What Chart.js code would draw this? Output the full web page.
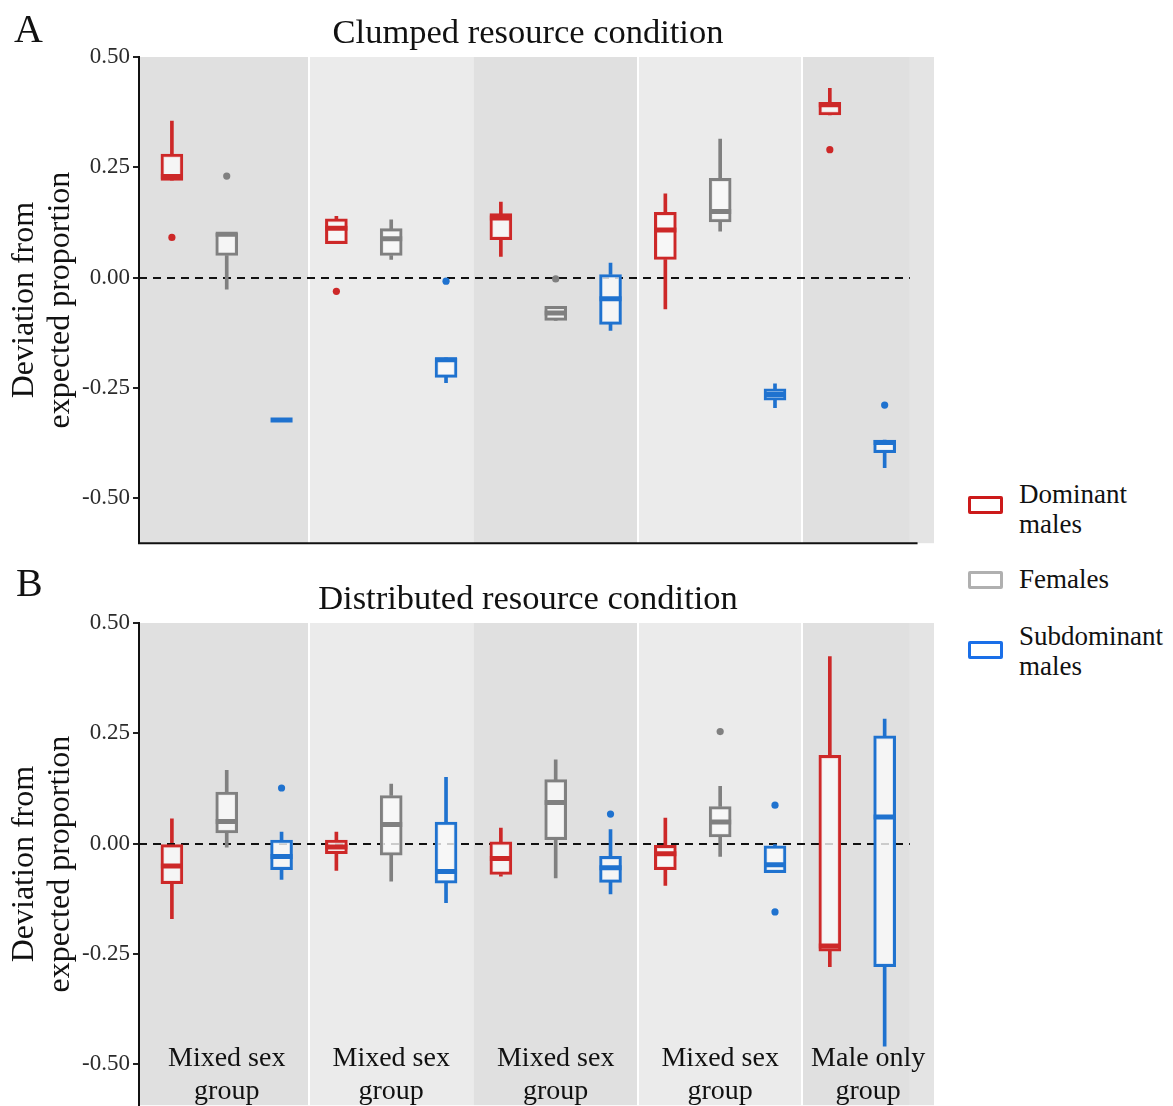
<!DOCTYPE html>
<html>
<head>
<meta charset="utf-8">
<script src="https://cdn.jsdelivr.net/npm/chart.js@4.4.1/dist/chart.umd.min.js"></script>
<style>
  html, body { margin:0; padding:0; background:#fff; }
  body { width:1173px; height:1106px; position:relative; overflow:hidden; font-family:"Liberation Serif","Times New Roman",serif; color:#111; }
  canvas { position:absolute; left:0; }
  .t { position:absolute; white-space:nowrap; line-height:1; }
  .title { font-size:34.5px; transform:translateX(-50%); }
  .letter { font-size:40px; }
  .leg { position:absolute; left:1019px; font-size:27px; line-height:30px; white-space:nowrap; }
  .icon { position:absolute; left:968px; width:29px; height:12px; border:3px solid; border-radius:2px; background:#fff; }
</style>
</head>
<body>
<canvas id="cA" width="950" height="560" style="top:0px"></canvas>
<canvas id="cB" width="950" height="556" style="top:566px"></canvas>

<div class="t letter" style="left:14px; top:9px;">A</div>
<div class="t letter" style="left:16px; top:563px;">B</div>
<div class="t title" style="left:528px; top:14px;">Clumped resource condition</div>
<div class="t title" style="left:528px; top:580px;">Distributed resource condition</div>

<div class="icon" style="top:496px; border-color:#cc1a1a;"></div>
<div class="icon" style="top:571px; border-color:#b0b0b0;"></div>
<div class="icon" style="top:641px; border-color:#1a6fe8;"></div>
<div class="leg" style="top:479px;">Dominant<br>males</div>
<div class="leg" style="top:564px;">Females</div>
<div class="leg" style="top:621px;">Subdominant<br>males</div>

<script>
// ---------- categories / positions on the shared linear x scale ----------
const groupLabels = [["Mixed sex","group"],["Mixed sex","group"],["Mixed sex","group"],["Mixed sex","group"],["Male only","group"]];
const groupLabelX = [2, 5, 8, 11, 13.7];
const domSlots = [1, 4, 7, 10, 13];
const femSlots = [2, 5, 8, 11];
const subSlots = [3, 6, 9, 12, 14];
const yTicks = [-0.5, -0.25, 0, 0.25, 0.5];

// ---------- Panel A: clumped ----------
const domA_min = [0.220, 0.077, 0.048, -0.071, 0.369];
const domA_q1  = [0.220, 0.077, 0.086,  0.041, 0.369];
const domA_med = [0.229, 0.112, 0.135,  0.108, 0.392];
const domA_q3  = [0.280, 0.133, 0.145,  0.148, 0.397];
const domA_max = [0.355, 0.139, 0.171,  0.190, 0.429];
const domA_out = [[0, 0.091], [1, -0.031], [4, 0.290]];

const femA_min = [-0.026, 0.041, -0.097, 0.105];
const femA_q1  = [ 0.050, 0.050, -0.097, 0.126];
const femA_med = [ 0.098, 0.088, -0.080, 0.150];
const femA_q3  = [ 0.101, 0.111, -0.065, 0.225];
const femA_max = [ 0.101, 0.131, -0.065, 0.314];
const femA_out = [[0, 0.230], [2, -0.003]];

const subA_min = [-0.323, -0.238, -0.120, -0.295, -0.431];
const subA_q1  = [-0.323, -0.226, -0.106, -0.278, -0.397];
const subA_med = [-0.323, -0.186, -0.048, -0.265, -0.374];
const subA_q3  = [-0.323, -0.182,  0.007, -0.252, -0.368];
const subA_max = [-0.323, -0.182,  0.033, -0.241, -0.368];
const subA_out = [[1, -0.008], [4, -0.289]];

// ---------- Panel B: distributed ----------
const domB_min = [-0.170, -0.061, -0.074, -0.095, -0.279];
const domB_q1  = [-0.091, -0.023, -0.070, -0.059, -0.244];
const domB_med = [-0.051, -0.008, -0.034, -0.023, -0.232];
const domB_q3  = [ 0.000,  0.008,  0.004, -0.004,  0.200];
const domB_max = [ 0.056,  0.026,  0.035,  0.058,  0.424];
const domB_out = [];

const femB_min = [-0.008, -0.085, -0.078, -0.029];
const femB_q1  = [ 0.024, -0.026,  0.009,  0.015];
const femB_med = [ 0.050,  0.043,  0.093,  0.049];
const femB_q3  = [ 0.117,  0.109,  0.145,  0.084];
const femB_max = [ 0.166,  0.135,  0.190,  0.130];
const femB_out = [[3, 0.254]];

const subB_min = [-0.081, -0.134, -0.114, -0.066, -0.459];
const subB_q1  = [-0.059, -0.090, -0.088, -0.066, -0.279];
const subB_med = [-0.029, -0.063, -0.055, -0.048,  0.060];
const subB_q3  = [ 0.008,  0.049, -0.029, -0.005,  0.244];
const subB_max = [ 0.026,  0.150,  0.032,  0.000,  0.282];
const subB_out = [[0, 0.126], [2, 0.067], [3, 0.087], [3, -0.155]];

// ---------- styling ----------
Chart.defaults.font.family = '"Liberation Serif", "Times New Roman", serif';
const RED = '#cd2828', GREY = '#808080', BLUE = '#1f72cf';
const BOXFILL = 'rgba(250,250,250,0.8)';
const bands = [
  [0.4, 3.5, '#e0e0e0'], [3.5, 6.5, '#ebebeb'], [6.5, 9.5, '#e0e0e0'],
  [9.5, 12.5, '#ebebeb'], [12.5, 14.46, '#e0e0e0'], [14.46, 14.9, '#e4e4e4']
];
const separators = [3.5, 9.5, 12.5];
const zeroLineEnd = 14.46;
const bottomAxisEnd = 14.6;

function seriesDatasets(slots, mn, q1, med, q3, mx, out, color) {
  return [
    { type:'bar', grouped:false, order:5, barThickness:3, backgroundColor:color, borderWidth:0,
      data: slots.map((x,i)=>({x, y:[mn[i], q1[i]]})) },
    { type:'bar', grouped:false, order:5, barThickness:3, backgroundColor:color, borderWidth:0,
      data: slots.map((x,i)=>({x, y:[q3[i], mx[i]]})) },
    { type:'bar', grouped:false, order:4, barThickness:22, backgroundColor:BOXFILL, borderColor:color,
      borderWidth:3, borderSkipped:false,
      data: slots.map((x,i)=>({x, y:[q1[i], q3[i]]})) },
    { type:'scatter', order:2, pointStyle:'line', pointRadius:11, pointBorderWidth:5,
      borderColor:color, backgroundColor:color,
      data: slots.map((x,i)=>({x, y:med[i]})) },
    { type:'scatter', order:1, pointStyle:'circle', pointRadius:3.6, pointBorderWidth:0,
      backgroundColor:color, borderColor:color,
      data: out.map(([g,v])=>({x:slots[g], y:v})) }
  ];
}

const bgPlugin = {
  id:'bg',
  beforeDraw(chart) {
    const {ctx, chartArea:a, scales:{x}} = chart;
    ctx.save();
    bands.forEach(([s,e,c]) => {
      ctx.fillStyle = c;
      const x0 = x.getPixelForValue(s), x1 = x.getPixelForValue(e);
      ctx.fillRect(x0, a.top, x1 - x0, a.bottom - a.top);
    });
    ctx.strokeStyle = '#ffffff'; ctx.lineWidth = 2;
    separators.forEach(s => {
      const px = Math.round(x.getPixelForValue(s));
      ctx.beginPath(); ctx.moveTo(px, a.top); ctx.lineTo(px, a.bottom); ctx.stroke();
    });
    ctx.restore();
  },
  beforeDatasetsDraw(chart) {
    const {ctx, scales:{x,y}} = chart;
    const py = Math.round(y.getPixelForValue(0));
    ctx.save();
    ctx.strokeStyle = '#111'; ctx.lineWidth = 2; ctx.setLineDash([8,6]);
    ctx.beginPath(); ctx.moveTo(x.getPixelForValue(x.min), py); ctx.lineTo(x.getPixelForValue(zeroLineEnd), py); ctx.stroke();
    ctx.restore();
  },
  afterDraw(chart, args, opts) {
    const {ctx, chartArea:a, scales:{x}} = chart;
    ctx.save();
    if (opts.bottomLine) {
      ctx.strokeStyle = '#111'; ctx.lineWidth = 2;
      ctx.beginPath(); ctx.moveTo(a.left - 1, a.bottom); ctx.lineTo(x.getPixelForValue(bottomAxisEnd), a.bottom); ctx.stroke();
    }
    if (opts.labels) {
      ctx.fillStyle = '#111';
      ctx.font = '28px "Liberation Serif"';
      ctx.textAlign = 'center'; ctx.textBaseline = 'alphabetic';
      groupLabels.forEach((lines, i) => {
        const px = x.getPixelForValue(groupLabelX[i]);
        ctx.fillText(lines[0], px, a.bottom - 39);
        ctx.fillText(lines[1], px, a.bottom - 6);
      });
    }
    ctx.restore();
  }
};

function makeChart(id, sets, yMin, showLabels, showBottom) {
  const datasets = [];
  sets.forEach(s => datasets.push(...seriesDatasets(...s)));
  return new Chart(document.getElementById(id), {
    type:'bar',
    data:{ datasets },
    plugins:[bgPlugin],
    options:{
      responsive:false, animation:false, devicePixelRatio:1,
      layout:{ padding:{ left:0, right:16, top:57, bottom:16 } },
      plugins:{ legend:{display:false}, tooltip:{enabled:false}, title:{display:false},
                bg:{labels:showLabels, bottomLine:showBottom} },
      scales:{
        x:{ type:'linear', min:0.4, max:14.9, offset:false, display:true,
            grid:{ display:false, offset:false },
            ticks:{ display:false },
            border:{ display:false },
            afterFit(s){ s.height = 0; } },
        y:{ min:yMin, max:0.5,
            afterBuildTicks(s){ s.ticks = yTicks.map(v=>({value:v})); },
            ticks:{ callback:v=>Number(v).toFixed(2),
                    font:{family:'"Liberation Serif", serif', size:23}, color:'#2b2b2b', padding:3 },
            grid:{ drawOnChartArea:false, drawTicks:true, tickLength:6, color:'#222', lineWidth:2 },
            border:{ display:true, color:'#111', width:2 },
            title:{ display:true, text:['Deviation from','expected proportion'], color:'#111',
                    font:{family:'"Liberation Serif", serif', size:32, lineHeight:1.12}, padding:{top:7, bottom:0} },
            afterFit(s){ s.width = 139; } }
      }
    }
  });
}

makeChart('cA', [
  [domSlots, domA_min, domA_q1, domA_med, domA_q3, domA_max, domA_out, RED],
  [femSlots, femA_min, femA_q1, femA_med, femA_q3, femA_max, femA_out, GREY],
  [subSlots, subA_min, subA_q1, subA_med, subA_q3, subA_max, subA_out, BLUE]
], -0.602, false, true);

makeChart('cB', [
  [domSlots, domB_min, domB_q1, domB_med, domB_q3, domB_max, domB_out, RED],
  [femSlots, femB_min, femB_q1, femB_med, femB_q3, femB_max, femB_out, GREY],
  [subSlots, subB_min, subB_q1, subB_med, subB_q3, subB_max, subB_out, BLUE]
], -0.593, true, false);
</script>
</body>
</html>
